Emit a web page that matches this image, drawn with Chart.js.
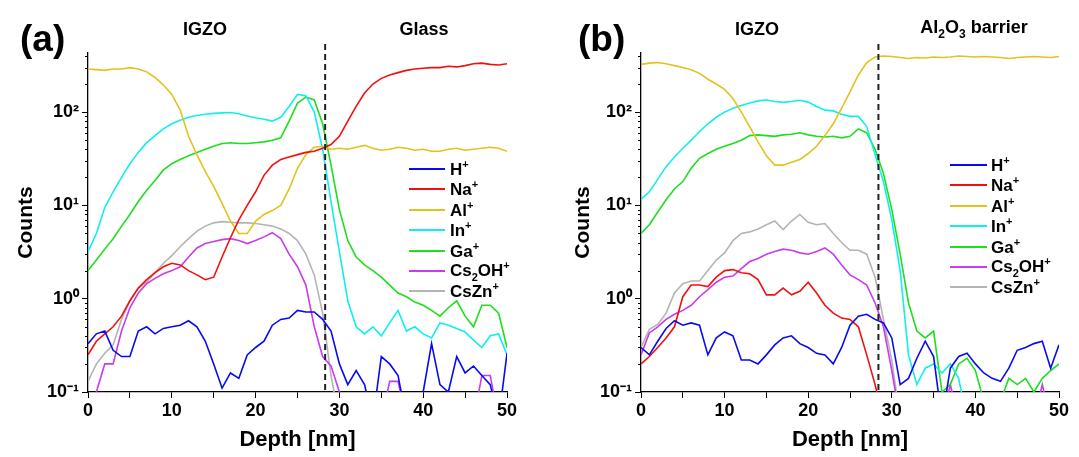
<!DOCTYPE html>
<html>
<head>
<meta charset="utf-8">
<script src="https://cdn.jsdelivr.net/npm/chart.js@4"></script>
<style>
  body { margin:0; background:#fff; width:1079px; height:457px; overflow:hidden; position:relative;
         font-family:"Liberation Sans", Arial, sans-serif; font-weight:bold; color:#000; }
  canvas { position:absolute; top:0; }
  .txt { position:absolute; transform:translate(-50%,-50%); white-space:nowrap; }
  .lg { position:absolute; font-size:17px; white-space:nowrap; transform:translateY(-50%); }
  .lg sup, .lg sub { font-size:11px; }
  .ln { position:absolute; height:2px; }
  .tag { position:absolute; font-size:37px; transform:translateY(-50%); }
</style>
</head>
<body>
<canvas id="chartA" width="540" height="457" style="left:0"></canvas>
<canvas id="chartB" width="539" height="457" style="left:540px"></canvas>

<div class="tag" style="left:20px;top:39px">(a)</div>
<div class="txt" style="left:205px;top:29px;font-size:18px">IGZO</div>
<div class="txt" style="left:424px;top:29px;font-size:18px">Glass</div>

<div class="tag" style="left:578px;top:39px">(b)</div>
<div class="txt" style="left:757px;top:29px;font-size:18px">IGZO</div>
<div class="txt" style="left:974px;top:29px;font-size:18px">Al<sub style="font-size:12px">2</sub>O<sub style="font-size:12px">3</sub> barrier</div>

<div id="legends"></div>

<script>
// ---------------- data ----------------

const depth = [0,1,2,3,4,5,6,7,8,9,10,11,12,13,14,15,16,17,18,19,20,
  21,22,23,24,25,26,27,28,29,30,31,32,33,34,35,36,37,38,39,40,
  41,42,43,44,45,46,47,48,49,50];

const ionNames = ["H<sup>+</sup>", "Na<sup>+</sup>", "Al<sup>+</sup>", "In<sup>+</sup>",
  "Ga<sup>+</sup>", "Cs<sub>2</sub>OH<sup>+</sup>", "CsZn<sup>+</sup>"];

const ionColors = ["#0a0af0", "#f01010", "#e3c21e", "#10eeee", "#1ede1e", "#c83cf0", "#b4b4b4"];

const yTicks = [0.1, 1, 10, 100];
const yTickLabels = ["10\u207B\u00B9", "10\u2070", "10\u00B9", "10\u00B2"];

// panel (a): IGZO / Glass
const aH = [0.33,0.42,0.45,0.28,0.24,0.24,0.45,0.5,0.42,0.48,0.5,0.52,0.58,0.5,0.35,0.2,0.11,0.16,0.14,0.25,0.3,
  0.35,0.52,0.6,0.62,0.75,0.72,0.72,0.6,0.45,0.2,0.12,0.17,0.12,0.05,0.24,0.2,0.15,0.05,0.05,0.1,
  0.33,0.12,0.1,0.24,0.16,0.19,0.15,0.12,0.05,0.26];
const aNa = [0.25,0.35,0.42,0.5,0.65,0.95,1.3,1.6,1.9,2.2,2.4,2.3,2.0,1.8,1.6,1.7,2.8,4.5,7,10,14,
  21,27,31,33,35,37,38,41,45,55,80,115,160,200,230,250,265,280,290,295,
  300,300,310,305,315,330,335,325,320,330];
const aAl = [290,285,280,290,290,300,290,270,235,195,155,105,55,35,23,16,10.5,6.8,5,5,6.8,
  8,8.8,10,15,25,35,42,43,40,41,40,42,44,41,39,40,42,41,39,40,
  38,38,40,41,39,40,41,42,41,38];
const aIn = [3.2,5,9.5,14,20,28,37,47,56,66,75,82,88,92,95,97,98,99,96,91,87,
  84,80,88,115,155,150,100,40,11,3.2,0.95,0.5,0.42,0.5,0.4,0.55,0.75,0.45,0.5,0.42,
  0.38,0.55,0.52,0.48,0.44,0.36,0.3,0.4,0.42,0.25];
const aGa = [2,2.6,3.4,4.4,6,8,11,14.5,18.5,24,28,31,34,37,40,43,46,47,46,46,47,
  48,50,53,80,125,145,135,75,27,9,4.2,2.8,2.3,2.0,1.7,1.4,1.15,1.05,0.92,0.85,
  0.75,0.65,0.8,0.95,0.65,0.5,0.85,0.85,0.7,0.3];
const aCs2OH = [0.05,0.1,0.2,0.2,0.45,0.8,1.15,1.45,1.65,1.85,2.0,2.2,2.8,3.5,3.9,4.1,4.3,4.4,4.2,3.9,4.2,
  4.6,5.1,4.4,3.0,2.2,1.4,0.5,0.24,0.19,0.1,0.08,0.05,0.05,0.05,0.05,0.13,0.13,0.05,0.05,0.05,
  0.05,0.05,0.05,0.05,0.05,0.05,0.15,0.15,0.05,0.05];
const aCsZn = [0.13,0.2,0.26,0.32,0.6,0.95,1.3,1.5,1.9,2.4,2.9,3.6,4.4,5.3,6.0,6.5,6.7,6.6,6.5,6.5,6.4,
  6.2,6.0,5.6,5.0,4.2,3.0,1.8,0.7,0.15,0.05,0.05,0.05,0.05,0.05,0.05,0.05,0.05,0.05,0.05,0.05,
  0.05,0.05,0.05,0.05,0.05,0.05,0.05,0.05,0.05,0.05];

// panel (b): IGZO / Al2O3 barrier
const bH = [0.3,0.25,0.35,0.48,0.58,0.52,0.55,0.52,0.25,0.38,0.44,0.4,0.22,0.22,0.2,0.25,0.32,0.38,0.4,0.33,0.3,
  0.26,0.25,0.2,0.3,0.52,0.65,0.68,0.6,0.55,0.38,0.12,0.14,0.23,0.35,0.24,0.05,0.18,0.24,0.26,0.2,
  0.16,0.14,0.13,0.18,0.28,0.3,0.33,0.35,0.18,0.32];
const bNa = [0.2,0.24,0.3,0.38,0.5,1.05,1.4,1.4,1.35,1.7,2.0,2.05,1.9,1.85,1.6,1.1,1.1,1.3,1.1,1.2,1.5,
  1.15,0.85,0.7,0.62,0.6,0.5,0.25,0.12,0.05,0.05,0.05,0.05,0.05,0.05,0.05,0.05,0.05,0.05,0.05,0.05,
  0.05,0.05,0.05,0.05,0.05,0.05,0.05,0.05,0.05,0.05];
const bAl = [325,335,340,330,315,300,285,260,225,200,175,140,100,70,48,34,27,27,29,31,36,
  43,56,75,110,165,250,340,390,400,395,385,375,385,380,390,385,390,400,395,390,
  395,390,385,375,385,390,395,390,385,395];
const bIn = [11.6,14,19,26,33,41,50,62,75,88,100,110,118,125,132,135,130,127,130,134,128,
  115,105,103,95,90,90,70,35,18,7,2,0.25,0.12,0.18,0.2,0.16,0.2,0.14,0.05,0.05,
  0.05,0.05,0.05,0.05,0.05,0.05,0.05,0.05,0.05,0.05];
const bGa = [5,6.2,8.5,11.5,15,18,25,32,36,40,43,46,50,56,57,56,55,57,58,60,57,
  55,54,55,53,55,66,60,40,22,9,3,0.9,0.45,0.38,0.45,0.1,0.12,0.2,0.23,0.17,
  0.08,0.05,0.08,0.14,0.12,0.14,0.1,0.14,0.17,0.2];
const bCs2OH = [0.25,0.43,0.5,0.6,0.68,0.75,0.85,1.05,1.25,1.5,1.7,1.75,2.1,2.5,2.7,3.0,3.2,3.4,3.3,3.1,3.0,
  3.2,3.5,3.0,2.3,1.8,1.6,1.4,0.9,0.5,0.17,0.05,0.05,0.05,0.05,0.05,0.05,0.12,0.05,0.05,0.05,
  0.05,0.05,0.05,0.05,0.05,0.05,0.05,0.12,0.05,0.05];
const bCsZn = [0.3,0.47,0.53,0.7,1.15,1.45,1.55,1.55,2.0,2.6,3.1,4.2,5.0,5.2,5.6,6.2,6.8,5.5,6.8,8.0,6.6,
  6.2,6.4,5.0,4.0,3.3,3.3,3.0,1.7,0.6,0.22,0.05,0.05,0.05,0.05,0.05,0.05,0.05,0.05,0.05,0.05,
  0.05,0.05,0.05,0.05,0.05,0.05,0.05,0.05,0.05,0.05];

const interfaceA = 28.3;
const interfaceB = 28.4;

// ---------------- drawing ----------------

const FONT = "'Liberation Sans', Arial, sans-serif";

// dashed interface line + minor log ticks
const marks = {
  id: "marks",
  afterDraw(chart, args, opts) {
    const ctx = chart.ctx;
    const x = chart.scales.x, y = chart.scales.y;
    const area = chart.chartArea;

    ctx.save();
    ctx.strokeStyle = "#000";
    ctx.lineWidth = 1;
    for (let e = -1; e <= 2; e++) {
      for (let m = 2; m <= 9; m++) {
        const v = m * Math.pow(10, e);
        if (v > y.max) continue;
        const py = Math.round(y.getPixelForValue(v)) + 0.5;
        ctx.beginPath();
        ctx.moveTo(area.left, py);
        ctx.lineTo(area.left - 3, py);
        ctx.stroke();
      }
    }

    const px = x.getPixelForValue(opts.dashX);
    ctx.strokeStyle = "#222";
    ctx.lineWidth = 2;
    ctx.setLineDash([6, 4]);
    ctx.beginPath();
    ctx.moveTo(px, area.top - 9);
    ctx.lineTo(px, area.bottom);
    ctx.stroke();
    ctx.restore();
  }
};

function makePanel(id, series, dashX, padLeft, yWidth, padRight) {
  new Chart(document.getElementById(id), {
    type: "line",
    data: {
      datasets: series.map((s, i) => ({
        label: ionNames[i],
        data: depth.map((d, j) => ({ x: d, y: s[j] })),
        borderColor: ionColors[i],
        borderWidth: 1.6,
        pointRadius: 0,
        tension: 0,
        fill: false
      }))
    },
    options: {
      responsive: false,
      animation: false,
      devicePixelRatio: 1,
      layout: { padding: { left: padLeft, top: 53, right: padRight, bottom: 0 } },
      plugins: {
        legend: { display: false },
        tooltip: { enabled: false },
        marks: { dashX: dashX }
      },
      scales: {
        x: {
          type: "linear",
          min: 0,
          max: 50,
          afterFit: s => { s.height = 65; },
          afterBuildTicks: s => { s.ticks = [0,5,10,15,20,25,30,35,40,45,50].map(v => ({ value: v })); },
          ticks: {
            autoSkip: false,
            maxRotation: 0,
            padding: 2,
            color: "#000",
            font: { family: FONT, size: 18, weight: "bold" },
            callback: v => (v % 10 === 0 ? v : "")
          },
          grid: { drawOnChartArea: false, tickLength: 6, color: "#000", tickWidth: 1 },
          border: { color: "#000", width: 1.3 },
          title: {
            display: true,
            text: "Depth [nm]",
            color: "#000",
            padding: { top: 4, bottom: 4 },
            font: { family: FONT, size: 22, weight: "bold" }
          }
        },
        y: {
          type: "logarithmic",
          min: 0.1,
          max: 430,
          afterFit: s => { s.width = yWidth; },
          afterBuildTicks: s => { s.ticks = yTicks.map(v => ({ value: v })); },
          ticks: {
            padding: 3,
            color: "#000",
            font: { family: FONT, size: 18, weight: "bold" },
            callback: v => yTickLabels[yTicks.indexOf(v)]
          },
          grid: { drawOnChartArea: false, tickLength: 6, color: "#000", tickWidth: 1 },
          border: { color: "#000", width: 1.3 },
          title: {
            display: true,
            text: "Counts",
            color: "#000",
            padding: { top: 4, bottom: 4 },
            font: { family: FONT, size: 21, weight: "bold" }
          }
        }
      }
    },
    plugins: [marks]
  });
}

makePanel("chartA", [aH, aNa, aAl, aIn, aGa, aCs2OH, aCsZn], interfaceA, 10, 78, 33);
makePanel("chartB", [bH, bNa, bAl, bIn, bGa, bCs2OH, bCsZn], interfaceB, 27, 74, 20);

// legends inside the plot areas
function makeLegend(lineLeft, lineWidth, textLeft, top) {
  const box = document.getElementById("legends");
  ionNames.forEach((n, i) => {
    const y = top + i * 20.4;
    const ln = document.createElement("div");
    ln.className = "ln";
    ln.style.cssText = `left:${lineLeft}px;top:${y - 1}px;width:${lineWidth}px;background:${ionColors[i]}`;
    box.appendChild(ln);
    const t = document.createElement("div");
    t.className = "lg";
    t.style.left = textLeft + "px";
    t.style.top = y + "px";
    t.innerHTML = n;
    box.appendChild(t);
  });
}

makeLegend(409, 36, 450, 169);
makeLegend(950, 37, 991, 165);
</script>
</body>
</html>
